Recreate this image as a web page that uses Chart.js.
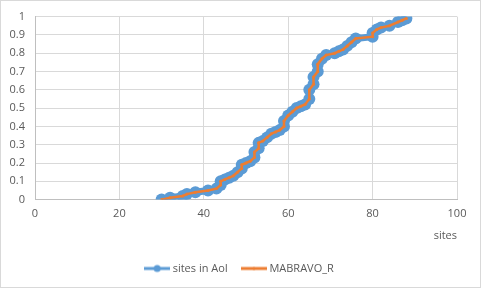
<!DOCTYPE html>
<html>
<head>
<meta charset="utf-8">
<script src="https://cdn.jsdelivr.net/npm/chart.js@4"></script>
<style>
  body { margin: 0; background: #fff; }
</style>
</head>
<body>
<canvas id="ecdfChart" width="481" height="288"></canvas>
<script>
// number of sites vs cumulative fraction
const sites = [30, 32, 35, 36, 38, 41, 43, 44, 44, 45, 46, 47, 48, 49, 49, 50, 51, 52, 52, 53,
  53, 54, 55, 56, 57, 58, 59, 59, 60, 61, 62, 63, 64, 65, 65, 66, 66, 67, 67, 68,
  69, 71, 72, 73, 74, 75, 76, 80, 80, 81, 82, 84, 86, 87, 88];
const cumFraction = [0.00, 0.01, 0.02, 0.03, 0.04, 0.05, 0.06, 0.08, 0.10, 0.11, 0.12, 0.13, 0.15, 0.17, 0.19, 0.20, 0.21, 0.23, 0.26, 0.28,
  0.31, 0.32, 0.34, 0.36, 0.37, 0.38, 0.40, 0.43, 0.46, 0.48, 0.50, 0.51, 0.52, 0.55, 0.60, 0.63, 0.67, 0.70, 0.74, 0.77,
  0.79, 0.80, 0.81, 0.82, 0.84, 0.86, 0.88, 0.89, 0.91, 0.93, 0.94, 0.95, 0.97, 0.98, 0.99];
const seriesNames = ["sites in AoI", "MABRAVO_R"];

const blue = "#5b9bd5";
const orange = "#ed7d31";
const textColor = "#595959";
const gridColor = "#d9d9d9";
const font = { family: "'Open Sans', sans-serif", size: 11 };

const points = sites.map((x, i) => ({ x: x, y: cumFraction[i] }));

// little excel-like legend icons: a line with a marker in the middle
function legendIcon(color, lineW, r) {
  const c = document.createElement("canvas");
  c.width = 26;
  c.height = 12;
  const g = c.getContext("2d");
  g.strokeStyle = color;
  g.lineWidth = lineW;
  g.beginPath();
  g.moveTo(0, 6);
  g.lineTo(26, 6);
  g.stroke();
  g.fillStyle = color;
  g.beginPath();
  g.arc(13, 6, r, 0, Math.PI * 2);
  g.fill();
  return c;
}
const icons = [legendIcon(blue, 3, 3.5), legendIcon(orange, 3, 1.5)];

const borderPlugin = {
  id: "chartBorder",
  beforeDraw(chart) {
    const ctx = chart.ctx;
    ctx.save();
    ctx.fillStyle = "#fff";
    ctx.fillRect(0, 0, chart.width, chart.height);
    ctx.restore();
  },
  afterDraw(chart) {
    const ctx = chart.ctx;
    ctx.save();
    ctx.strokeStyle = gridColor;
    ctx.lineWidth = 1;
    ctx.strokeRect(0.5, 0.5, chart.width - 1, chart.height - 1);
    ctx.restore();
  },
};

new Chart(document.getElementById("ecdfChart"), {
  type: "scatter",
  data: {
    datasets: [
      {
        label: seriesNames[0],
        data: points,
        showLine: true,
        borderColor: blue,
        backgroundColor: blue,
        borderWidth: 7,
        pointRadius: 6,
        pointBorderWidth: 0,
        order: 2,
      },
      {
        label: seriesNames[1],
        data: points,
        showLine: true,
        borderColor: orange,
        backgroundColor: orange,
        borderWidth: 2.5,
        pointRadius: 1.5,
        pointBorderWidth: 0,
        order: 1,
      },
    ],
  },
  options: {
    responsive: false,
    animation: false,
    layout: { padding: { left: 0, right: 0, top: 14, bottom: 4 } },
    plugins: {
      tooltip: { enabled: false },
      legend: {
        position: "bottom",
        labels: {
          font: font,
          color: textColor,
          usePointStyle: true,
          pointStyleWidth: 20,
          padding: 16,
          generateLabels: () =>
            seriesNames.map((name, i) => ({
              text: name,
              datasetIndex: i,
              pointStyle: icons[i],
              fontColor: textColor,
              lineWidth: 0,
              strokeStyle: "transparent",
              fillStyle: "transparent",
            })),
        },
      },
    },
    scales: {
      x: {
        type: "linear",
        min: 0,
        max: 100,
        ticks: { stepSize: 20, font: font, color: textColor, padding: 8 },
        grid: { color: gridColor, drawTicks: false },
        border: { color: "#bfbfbf" },
        title: {
          display: true,
          text: "sites",
          align: "end",
          font: font,
          color: textColor,
          padding: { top: 0, bottom: 5 },
        },
      },
      y: {
        min: 0,
        max: 1,
        ticks: {
          stepSize: 0.1,
          font: font,
          color: textColor,
          padding: 10,
          callback: (v) => +v.toFixed(1),
        },
        grid: { color: gridColor, drawTicks: false },
        border: { color: "#bfbfbf" },
        afterFit: (s) => { s.width = 35; },
      },
      // empty right axis, only keeps the white margin on the right
      yRight: {
        position: "right",
        min: 0,
        max: 1,
        ticks: { display: false },
        grid: { display: false, drawTicks: false },
        border: { display: false },
        afterFit: (s) => { s.width = 24; },
      },
    },
  },
  plugins: [borderPlugin],
});
</script>
</body>
</html>
